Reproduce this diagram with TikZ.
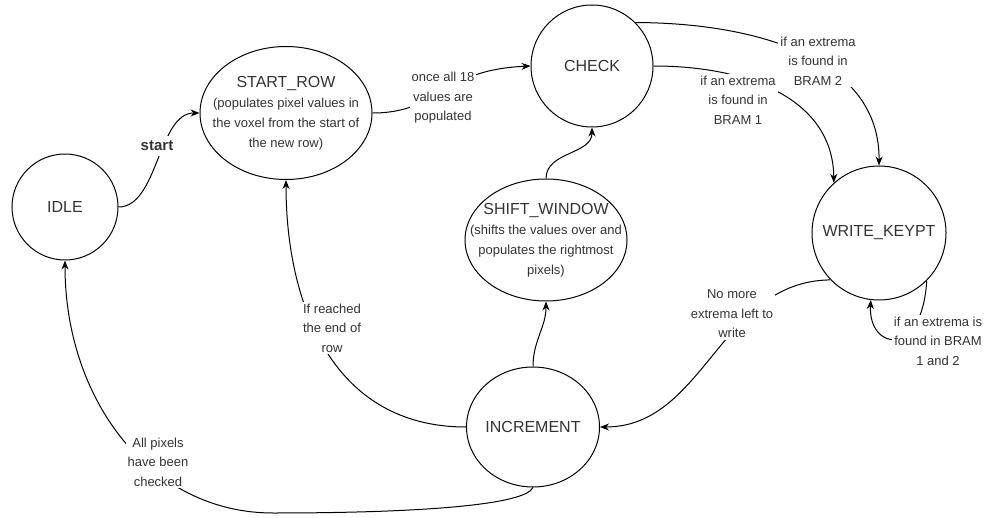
\documentclass[tikz,border=0pt]{standalone}
\usepackage{fontspec}
\setmainfont{Liberation Sans}
\usepackage{tikz}
\usetikzlibrary{shapes.geometric,arrows.meta}
\tikzset{
	state/.style={draw, circle, line width=1pt, inner sep=0pt},
	oval/.style={draw, ellipse, line width=1pt, inner sep=0pt},
	stxt/.style={align=center, text=black!80, font=\fontsize{13}{20}\selectfont, inner sep=0pt},
	trans/.style={line width=1pt, -{Stealth[length=9pt,width=7pt]}},
	lbl/.style={fill=white, align=center, text=black!80, font=\fontsize{13}{19.5}\selectfont, inner sep=2pt},
}
\newcommand{\sname}[1]{{\fontsize{16}{20}\selectfont #1}}

\begin{document}
\begin{tikzpicture}[x=1pt,y=-1pt]
				\useasboundingbox (0,0) rectangle (987,518);
				\node[state, minimum size=106pt, label={[stxt]center:\sname{IDLE}}] (idle) at (65, 207) {};
				\node[oval, minimum width=172pt, minimum height=133pt, label={[stxt]center:{\sname{START\_ROW}\\(populates pixel values in\\the voxel from the start of\\the new row)}}] (startrow) at (286, 113) {};
				\node[state, minimum size=122pt, label={[stxt]center:\sname{CHECK}}] (check) at (592, 66) {};
				\node[oval, minimum width=162pt, minimum height=122pt, label={[stxt]center:{\sname{SHIFT\_WINDOW}\\(shifts the values over and\\populates the rightmost\\pixels)}}] (shiftwin) at (546, 240) {};
				\node[state, minimum size=134pt, label={[stxt]center:\sname{WRITE\_KEYPT}}] (writekp) at (879, 233) {};
				\node[oval, minimum width=133pt, minimum height=120pt, label={[stxt]center:\sname{INCREMENT}}] (incr) at (533, 427) {};
				\draw[trans] (idle.east) .. controls (158,207) and (158,113) .. (startrow.west) node[lbl, inner sep=5pt, at={(157,146)}, font=\fontsize{15}{18}\selectfont\bfseries] {start};
				\draw[trans] (startrow.east) .. controls (440,113) and (440,70) .. (check.west) node[lbl, at={(443,98)}] {once all 18\\values are\\populated};
				\draw[trans] (check.east) .. controls (750,66) and (833,100) .. (writekp.132) node[lbl, at={(738,100)}] {if an extrema\\is found in\\BRAM 1};
				\draw[trans] (check.45) .. controls (760,23) and (880,60) .. (writekp.north) node[lbl, at={(818,61)}] {if an extrema\\is found in\\BRAM 2};
				\draw[trans] (shiftwin.north) to[out=90, in=-90] (check.south);
				\draw[trans] (incr.north) to[out=90, in=-90] (shiftwin.south);
				\draw[trans] (incr.west) .. controls (330,427) and (286,300) .. (startrow.south) node[lbl, at={(332,328)}] {If reached\\the end of\\row};
				\draw[trans] (incr.south) .. controls (525,505) and (420,513) .. (273,513) .. controls (150,513) and (65,400) .. (idle.south) node[lbl, at={(158,462)}] {All pixels\\have been\\checked};
				\draw[trans] (writekp.224) .. controls (720,281) and (705,427) .. (incr.east) node[lbl, at={(732,314)}] {No more\\extrema left to\\write};
				\draw[trans] (writekp.-45) .. controls (922,360) and (868,350) .. (writekp.-97) node[lbl, at={(938,341)}] {if an extrema is\\found in BRAM\\1 and 2};
		\end{tikzpicture}
\end{document}
